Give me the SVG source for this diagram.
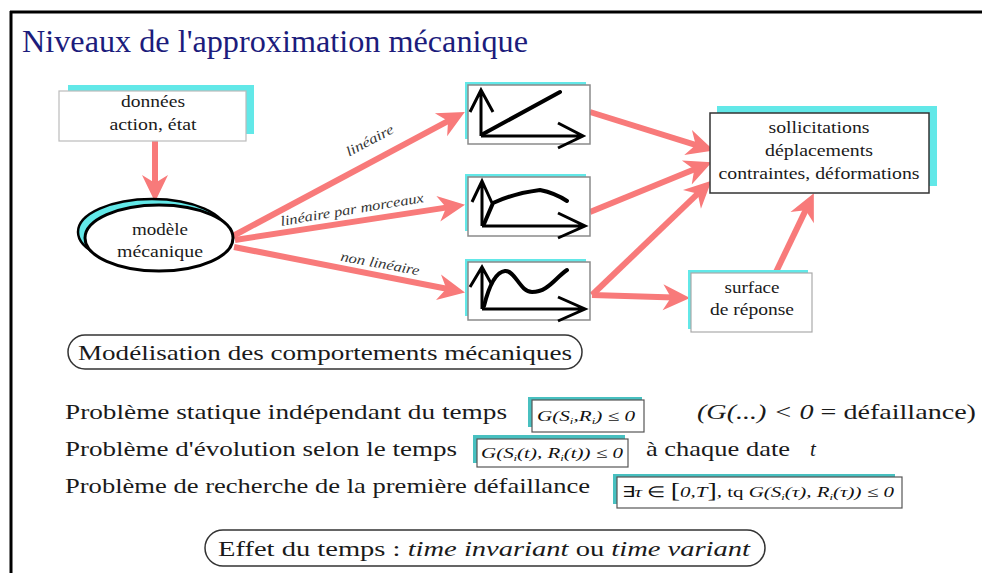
<svg xmlns="http://www.w3.org/2000/svg" width="982" height="573" viewBox="0 0 982 573" font-family="Liberation Serif, Times New Roman, serif">
<defs>
<marker id="ah" markerUnits="userSpaceOnUse" markerWidth="32" markerHeight="32" refX="12" refY="16" orient="auto" viewBox="0 0 32 32">
<path d="M1,3 L28,16 L1,29 L9,16 z" fill="#f87a7a"/>
</marker>
<style>
text{font-family:"Liberation Serif",serif}
.t{fill:#1a1a1a}
.n{font-size:17px;text-anchor:middle}
.lbl{font-style:italic;font-size:14px;fill:#333;text-anchor:middle}
.big{font-size:21px}
.f{font-style:italic;font-size:15px;fill:#111}
.sub{font-size:9px}
.sh{fill:#62e8e8}
.shf{fill:#48c0c0}
.bx{fill:#fff;stroke:#8a8a8a;stroke-width:1.5}
.fb{fill:#fff;stroke:#555;stroke-width:1.2}
.ax{fill:none;stroke:#000;stroke-width:3;stroke-linejoin:miter}
.cv{fill:none;stroke:#000;stroke-width:4;stroke-linecap:round;stroke-linejoin:round}
.ar{fill:none;stroke:#f87a7a;stroke-width:6;marker-end:url(#ah)}
.pill{fill:#fff;stroke:#333;stroke-width:1.5}
</style>
</defs>
<rect width="982" height="573" fill="#fff"/>
<g id="frame">
<line x1="10" y1="12" x2="982" y2="12" stroke="#000" stroke-width="3"/>
<line x1="11" y1="11" x2="11" y2="573" stroke="#000" stroke-width="3"/>
</g>
<text id="title" x="22" y="52" font-size="32" fill="#1c1c7c" textLength="506" lengthAdjust="spacingAndGlyphs">Niveaux de l'approximation mécanique</text>

<g id="connectors">
<path class="ar" d="M155,141 L155,186"/>
<path class="ar" d="M233,236 L450.7,119.6"/>
<path class="ar" d="M235,240 L449.2,207.1"/>
<path class="ar" d="M234,247 L449.3,289.3"/>
<path class="ar" d="M590,112 L698.6,145.8"/>
<path class="ar" d="M590,212 L697,168.3"/>
<path class="ar" d="M592,295 L699.9,191.7"/>
<path class="ar" d="M592,295 L674,297.6"/>
<path class="ar" d="M776,272 L806.9,207.6"/>
<text class="lbl" transform="translate(370,141) rotate(-28)" y="4" textLength="52" lengthAdjust="spacingAndGlyphs">linéaire</text>
<text class="lbl" transform="translate(352,210) rotate(-9.5)" y="4" textLength="145" lengthAdjust="spacingAndGlyphs">linéaire par morceaux</text>
<text class="lbl" transform="translate(380,264) rotate(10.5)" y="4" textLength="80" lengthAdjust="spacingAndGlyphs">non linéaire</text>
</g>

<g id="donnees">
<rect class="sh" x="68" y="85" width="186" height="49"/>
<rect x="59" y="91" width="187" height="50" fill="#fff" stroke="#bbb" stroke-width="1.2"/>
<text class="t n" x="153" y="107" textLength="64" lengthAdjust="spacingAndGlyphs">données</text>
<text class="t n" x="153" y="130" textLength="87" lengthAdjust="spacingAndGlyphs">action, état</text>
</g>

<g id="modele">
<ellipse cx="152" cy="232" rx="74" ry="33" fill="#62e8e8" stroke="#000" stroke-width="2.5"/>
<ellipse cx="159" cy="238" rx="74" ry="33" fill="#fff" stroke="#000" stroke-width="3"/>
<text class="t n" x="160" y="235" textLength="56" lengthAdjust="spacingAndGlyphs">modèle</text>
<text class="t n" x="160" y="257" textLength="86" lengthAdjust="spacingAndGlyphs">mécanique</text>
</g>

<g id="graph-lineaire">
<rect class="sh" x="465" y="82" width="121" height="57"/>
<rect class="bx" x="468" y="85" width="122" height="59"/>
<path class="ax" d="M481,136 L481,90 M470,112 L481,90 L493,112 M481,136 L583,136 M558,123 L583,136 L558,148"/>
<path class="cv" d="M483,134 L560,92"/>
</g>

<g id="graph-morceaux">
<rect class="sh" x="465" y="174" width="121" height="57"/>
<rect class="bx" x="468" y="177" width="122" height="59"/>
<path class="ax" d="M482,226 L482,181 M472,202 L482,181 L492,203 M482,226 L585,226 M558,213 L585,226 L558,238"/>
<path class="cv" d="M484,224 L493,203 Q515,193 540,190 Q555,193 567,201"/>
</g>

<g id="graph-nonlineaire">
<rect class="sh" x="465" y="259" width="121" height="57"/>
<rect class="bx" x="468" y="262" width="122" height="58"/>
<path class="ax" d="M482,309 L482,267 M470,287 L482,267 L492,285 M482,309 L585,309 M558,297 L585,309 L558,321"/>
<path class="cv" d="M484,306 C488,290 495,272 505,271 C515,270 520,292 532,292 C548,292 555,278 567,270"/>
</g>

<g id="sollicitations">
<rect class="sh" x="717" y="106" width="220" height="80"/>
<rect x="710" y="113" width="219" height="80" fill="#fff" stroke="#333" stroke-width="1.5"/>
<text class="t n" x="819" y="133" textLength="101" lengthAdjust="spacingAndGlyphs">sollicitations</text>
<text class="t n" x="819" y="156" textLength="108" lengthAdjust="spacingAndGlyphs">déplacements</text>
<text class="t n" x="819" y="179" textLength="201" lengthAdjust="spacingAndGlyphs">contraintes, déformations</text>
</g>

<g id="surface">
<rect class="sh" x="688" y="270" width="120" height="59"/>
<rect x="691" y="273" width="121" height="59" fill="#fff" stroke="#aaa" stroke-width="1.2"/>
<text class="t n" x="752" y="293" textLength="55" lengthAdjust="spacingAndGlyphs">surface</text>
<text class="t n" x="752" y="315" textLength="84" lengthAdjust="spacingAndGlyphs">de réponse</text>
</g>

<g id="modelisation">
<rect class="pill" x="68" y="335" width="514" height="34" rx="17"/>
<text class="t" x="78" y="360" font-size="22" textLength="494" lengthAdjust="spacingAndGlyphs">Modélisation des comportements mécaniques</text>
</g>

<g id="probleme-statique">
<text class="t big" x="65" y="419" textLength="442" lengthAdjust="spacingAndGlyphs">Problème statique indépendant du temps</text>
<rect class="shf" x="528" y="397" width="114" height="30"/>
<rect class="fb" x="532" y="400" width="112" height="32"/>
<text class="f" x="537" y="421" textLength="98" lengthAdjust="spacingAndGlyphs">G(S<tspan class="sub" dy="3">i</tspan><tspan dy="-3">,R</tspan><tspan class="sub" dy="3">i</tspan><tspan dy="-3">) ≤ 0</tspan></text>
<text class="t big" x="697" y="419" textLength="279" lengthAdjust="spacingAndGlyphs"><tspan font-style="italic">(G(...) &lt; 0</tspan> = défaillance)</text>
</g>

<g id="probleme-evolution">
<text class="t big" x="65" y="456" textLength="392" lengthAdjust="spacingAndGlyphs">Problème d'évolution selon le temps</text>
<rect class="shf" x="473" y="435" width="152" height="28"/>
<rect class="fb" x="477" y="439" width="151" height="28"/>
<text class="f" x="481" y="458" textLength="142" lengthAdjust="spacingAndGlyphs">G(S<tspan class="sub" dy="3">i</tspan><tspan dy="-3">(t), R</tspan><tspan class="sub" dy="3">i</tspan><tspan dy="-3">(t)) ≤ 0</tspan></text>
<text class="t big" x="646" y="456" textLength="144" lengthAdjust="spacingAndGlyphs">à chaque date</text>
<text class="t big" x="810" y="456" font-style="italic">t</text>
</g>

<g id="probleme-defaillance">
<text class="t big" x="65" y="493" textLength="525" lengthAdjust="spacingAndGlyphs">Problème de recherche de la première défaillance</text>
<rect class="shf" x="613" y="474" width="282" height="30"/>
<rect class="fb" x="617" y="477" width="285" height="31"/>
<text class="f" x="622" y="497" textLength="272" lengthAdjust="spacingAndGlyphs"><tspan font-style="normal">∃</tspan>τ <tspan font-style="normal">∈</tspan> <tspan font-style="normal" font-size="20">[</tspan>0,T<tspan font-style="normal" font-size="20">]</tspan>, <tspan font-style="normal">tq</tspan> G(S<tspan class="sub" dy="3">i</tspan><tspan dy="-3">(τ), R</tspan><tspan class="sub" dy="3">i</tspan><tspan dy="-3">(τ)) ≤ 0</tspan></text>
</g>

<g id="effet-temps">
<rect class="pill" x="205" y="530" width="560" height="36" rx="18"/>
<text class="t" x="218" y="556" font-size="21" textLength="532" lengthAdjust="spacingAndGlyphs">Effet du temps : <tspan font-style="italic">time invariant</tspan> ou <tspan font-style="italic">time variant</tspan></text>
</g>
</svg>
